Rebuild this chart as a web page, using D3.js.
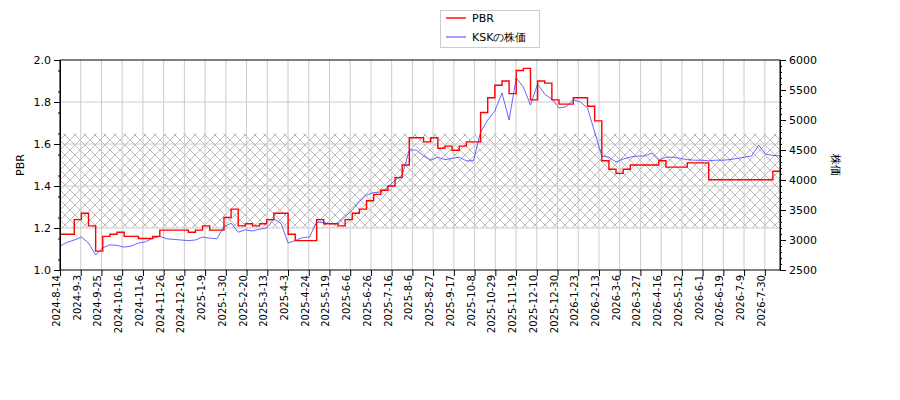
<!DOCTYPE html><html><head><meta charset="utf-8"><script src="https://cdn.jsdelivr.net/npm/d3@7"></script>
<style>body{margin:0;background:#fff}text{font-family:"DejaVu Sans",sans-serif}</style></head><body><svg id="c" width="900" height="400"></svg><script>
const tickLabels=["2024-8-14","2024-9-3","2024-9-25","2024-10-16","2024-11-6","2024-11-26","2024-12-16","2025-1-9","2025-1-30","2025-2-20","2025-3-13","2025-4-3","2025-4-24","2025-5-19","2025-6-6","2025-6-26","2025-7-16","2025-8-6","2025-8-27","2025-9-17","2025-10-8","2025-10-29","2025-11-19","2025-12-10","2025-12-30","2026-1-23","2026-2-13","2026-3-6","2026-3-27","2026-4-16","2026-5-12","2026-6-1","2026-6-19","2026-7-9","2026-7-30"];
const pbr=[1.17,1.17,1.24,1.27,1.21,1.09,1.16,1.17,1.18,1.16,1.16,1.15,1.15,1.16,1.19,1.19,1.19,1.19,1.18,1.19,1.21,1.19,1.19,1.25,1.29,1.21,1.22,1.21,1.22,1.24,1.27,1.27,1.17,1.14,1.14,1.14,1.24,1.22,1.22,1.21,1.24,1.27,1.29,1.33,1.36,1.38,1.40,1.44,1.50,1.63,1.63,1.61,1.63,1.58,1.59,1.57,1.59,1.61,1.61,1.75,1.82,1.88,1.90,1.84,1.95,1.96,1.81,1.90,1.89,1.81,1.79,1.79,1.82,1.82,1.78,1.71,1.52,1.48,1.46,1.48,1.50,1.50,1.50,1.50,1.52,1.49,1.49,1.49,1.51,1.51,1.51,1.43,1.43,1.43,1.43,1.43,1.43,1.43,1.43,1.43,1.47,1.47];
const ksk=[2900,2960,3000,3050,2950,2750,2870,2920,2910,2880,2900,2950,2970,3030,3060,3020,3010,3000,2990,3000,3050,3030,3020,3220,3280,3130,3170,3150,3180,3200,3350,3280,2950,2990,3040,3050,3300,3290,3270,3280,3390,3500,3640,3750,3790,3800,3880,4000,4080,4500,4500,4400,4330,4380,4340,4360,4380,4320,4320,4800,5000,5150,5450,5000,5700,5550,5250,5600,5430,5350,5200,5220,5340,5300,5200,4800,4400,4380,4300,4350,4380,4400,4400,4450,4330,4380,4380,4360,4340,4330,4330,4320,4330,4330,4340,4360,4380,4400,4580,4430,4410,4400];
const total=522, tickEvery=15, step=(total-1)/(pbr.length-1);
const svg=d3.select("#c");
const L=60,R=780,T=60,B=270;
const x=d3.scaleLinear().domain([0,total-1]).range([L,R]);
const y=d3.scaleLinear().domain([1.0,2.0]).range([B,T]);
const y2=d3.scaleLinear().domain([2500,6000]).range([B,T]);
const defs=svg.append("defs");
const p=defs.append("pattern").attr("id","h").attr("patternUnits","userSpaceOnUse").attr("width",10).attr("height",10);
p.append("path").attr("d","M0,0L10,10M10,0L0,10").attr("stroke","#aaa").attr("stroke-width",0.8);
svg.append("rect").attr("x",L).attr("y",y(1.65)).attr("width",R-L).attr("height",y(1.2)-y(1.65)).attr("fill","url(#h)");
const tks=tickLabels.map((d,i)=>i*tickEvery);
const g=svg.append("g");
tks.forEach(t=>g.append("line").attr("x1",x(t)).attr("x2",x(t)).attr("y1",T).attr("y2",B).attr("stroke","#ccc"));
[1.2,1.4,1.6,1.8].forEach(v=>g.append("line").attr("x1",L).attr("x2",R).attr("y1",y(v)).attr("y2",y(v)).attr("stroke","#ccc"));
const idx=d=>d.map((v,i)=>[i*step,v]);
svg.append("path").datum(idx(ksk)).attr("fill","none").attr("stroke","#4040ff").attr("stroke-width",0.8).attr("d",d3.line().x(d=>x(d[0])).y(d=>y2(d[1])));
svg.append("path").datum(idx(pbr)).attr("fill","none").attr("stroke","red").attr("stroke-width",1.4).attr("d",d3.line().curve(d3.curveStepAfter).x(d=>x(d[0])).y(d=>y(d[1])));
svg.append("rect").attr("x",L).attr("y",T).attr("width",R-L).attr("height",B-T).attr("fill","none").attr("stroke","#000");
const xa=svg.append("g").attr("transform",`translate(0,${B})`).call(d3.axisBottom(x).tickValues(tks).tickFormat((d,i)=>tickLabels[i]).tickSizeOuter(0));
xa.selectAll("text").attr("transform","rotate(-90)").attr("text-anchor","end").attr("x",-5).attr("y",-4).attr("dy","0.35em").style("font-size","10px");
xa.select(".domain").remove();
const ya=svg.append("g").attr("transform",`translate(${L},0)`).call(d3.axisLeft(y).tickValues([1.0,1.2,1.4,1.6,1.8,2.0]).tickFormat(d3.format(".1f")).tickSizeOuter(0));
svg.append("g").attr("transform",`translate(${L},0)`).call(d3.axisLeft(y).tickValues(d3.range(1.05,2.0,0.1)).tickSize(2).tickFormat("")).select(".domain").remove();
const yb=svg.append("g").attr("transform",`translate(${R},0)`).call(d3.axisRight(y2).tickValues(d3.range(2500,6001,500)).tickFormat(d3.format("d")).tickSizeOuter(0));
svg.append("g").attr("transform",`translate(${R},0)`).call(d3.axisRight(y2).tickValues(d3.range(2600,6000,100).filter(v=>v%500)).tickSize(2).tickFormat("")).select(".domain").remove();
svg.selectAll(".tick text").style("font-size","10px");
ya.selectAll("text").style("font-size","11px");yb.selectAll("text").style("font-size","11px");
svg.append("text").attr("transform","translate(24,165) rotate(-90)").attr("text-anchor","middle").style("font-size","11px").text("PBR");
svg.append("text").attr("transform","translate(832,165) rotate(90)").attr("text-anchor","middle").style("font-size","11px").text("株価");
const lg=svg.append("g");
lg.append("rect").attr("x",440.5).attr("y",10.5).attr("width",99).attr("height",37).attr("fill","#fff").attr("stroke","#ccc");
lg.append("line").attr("x1",446).attr("x2",466).attr("y1",18).attr("y2",18).attr("stroke","red").attr("stroke-width",1.4);
lg.append("line").attr("x1",446).attr("x2",466).attr("y1",37).attr("y2",37).attr("stroke","#4040ff");
lg.append("text").attr("x",472).attr("y",22).style("font-size","11px").text("PBR");
lg.append("text").attr("x",472).attr("y",41).style("font-size","11px").text("KSKの株価");
</script></body></html>
